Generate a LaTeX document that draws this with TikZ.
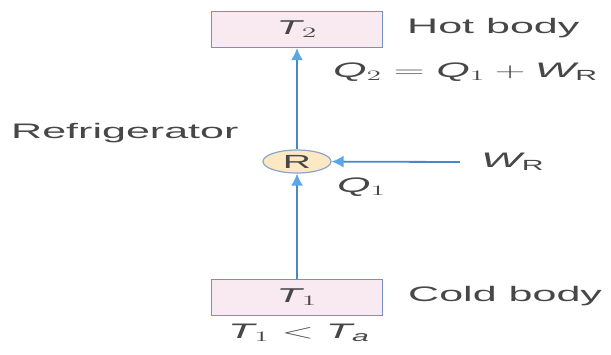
\documentclass[tikz,border=0pt]{standalone}
\usepackage{fontspec}
\setmainfont{Liberation Sans}
\usepackage{graphicx}
\usetikzlibrary{shapes.geometric,arrows.meta}
\definecolor{FlowBlue}{HTML}{4A86C8}
\definecolor{TipBlue}{HTML}{5AA6E6}
\definecolor{BoxEdge}{HTML}{7391C2}
\definecolor{BoxFill}{HTML}{F8EAF0}
\definecolor{CoreFill}{HTML}{FCE8C2}
\definecolor{CoreEdge}{HTML}{8AA6CC}
\definecolor{InkGrey}{HTML}{474747}
\newcommand{\wide}[1]{\scalebox{2.05}[1]{#1}}
\tikzset{
  bodynode/.style={
    draw=BoxEdge,fill=BoxFill,line width=1.2pt,
    minimum width=171pt,minimum height=36pt,inner sep=0pt,
    font=\fontsize{20}{23}\selectfont,text=InkGrey
  },
  corenode/.style={
    ellipse,draw=CoreEdge,fill=CoreFill,line width=1.2pt,
    minimum width=68pt,minimum height=23pt,inner sep=0pt,
    font=\fontsize{19}{21}\selectfont,text=InkGrey
  },
  lblnode/.style={
    inner sep=0pt,font=\fontsize{21}{24}\selectfont,text=InkGrey
  },
  flow/.style={
    draw=FlowBlue,line width=1.8pt,
    -{Latex[length=12pt,width=12pt,color=TipBlue]}
  },
}

\begin{document}
\begin{tikzpicture}[x=1pt,y=-1pt]
  \useasboundingbox (0,0) rectangle (611,354);
  \node[bodynode] (hot) at (297, 29.5) {\wide{$\mathit{T}_{2}$}};
  \node[bodynode] (cold) at (297, 297.5) {\wide{$\mathit{T}_{1}$}};
  \node[corenode] (ref) at (297, 161.5) {\wide{R}};
  \coordinate (wsrc) at (460, 162);
  \draw[flow] (cold) -- (ref);
  \draw[flow] (ref) -- (hot);
  \draw[flow] (wsrc) -- (ref);
  % labels
  \node[lblnode, anchor=west] (hotlbl) at (407, 28) {\wide{Hot body}};
  \node[lblnode, anchor=west] (q2lbl) at (333, 72) {\wide{$\mathit{Q}_{2} = \mathit{Q}_{1} + \mathit{W}_{\mathrm{R}}$}};
  \node[lblnode, anchor=west] (reflbl) at (11, 133) {\wide{Refrigerator}};
  \node[lblnode, anchor=west] (wlbl) at (481, 162) {\wide{$\mathit{W}_{\mathrm{R}}$}};
  \node[lblnode, anchor=west] (q1lbl) at (337, 187) {\wide{$\mathit{Q}_{1}$}};
  \node[lblnode, anchor=west] (coldlbl) at (408, 296) {\wide{Cold body}};
  \node[lblnode] (tlbl) at (299, 333) {\wide{$\mathit{T}_{1} < \mathit{T}_{\mathit{a}}$}};
\end{tikzpicture}
\end{document}
